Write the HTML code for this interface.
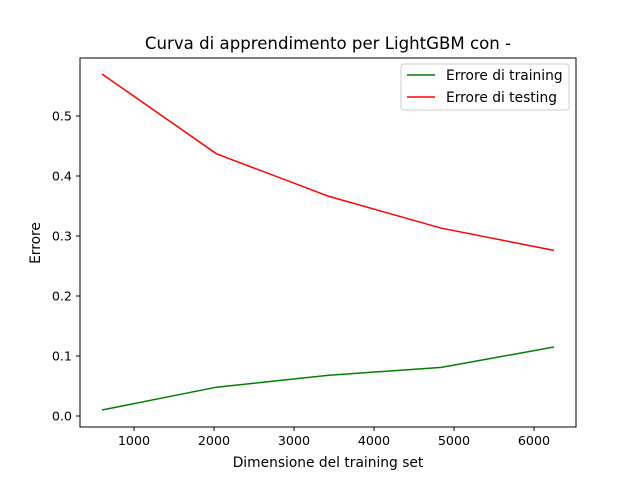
<!DOCTYPE html>
<html><head><meta charset="utf-8"><style>
body{margin:0;background:#fff}
svg text{font-family:"DejaVu Sans","Liberation Sans",sans-serif;fill:#000}
</style></head><body>
<svg width="640" height="480">
<rect x="0" y="0" width="640" height="480" fill="#fff"/>
<text x="328" y="49" font-size="16.6" text-anchor="middle">Curva di apprendimento per LightGBM con -</text>
<g id="ticks"></g>
<g id="lines"></g>
<rect x="80" y="58" width="496" height="369" fill="none" stroke="#000" stroke-width="1"/>
<text x="328" y="467" font-size="13.8" text-anchor="middle">Dimensione del training set</text>
<text x="40" y="243" font-size="13.8" text-anchor="middle" transform="rotate(-90 40 243)">Errore</text>
<g>
<rect x="401" y="64" width="168" height="46" rx="3" fill="#fff" stroke="#ccc"/>
<line x1="407" y1="75" x2="435" y2="75" stroke="green" stroke-width="1.5"/>
<text x="446" y="80" font-size="13.8">Errore di training</text>
<line x1="407" y1="97" x2="435" y2="97" stroke="red" stroke-width="1.5"/>
<text x="446" y="102" font-size="13.8">Errore di testing</text>
</g>
</svg>
<script>
const trainSizes=[600,2031,3437,4843,6250];
const trainErr=[0.01,0.048,0.068,0.081,0.115];
const testErr=[0.57,0.437,0.366,0.313,0.276];
const xTicks=[1000,2000,3000,4000,5000,6000];
const yTicks=[0.0,0.1,0.2,0.3,0.4,0.5];
const xs=v=>134+0.08*(v-1000);
const ys=v=>416-600*v;
const NS="http://www.w3.org/2000/svg";
const tg=document.getElementById('ticks');
xTicks.forEach(t=>{
 const l=document.createElementNS(NS,'line');
 l.setAttribute('x1',xs(t));l.setAttribute('x2',xs(t));l.setAttribute('y1',427);l.setAttribute('y2',431);l.setAttribute('stroke','#000');
 
 
 tg.appendChild(l);
 const tx=document.createElementNS(NS,'text');
 tx.setAttribute('x',xs(t));tx.setAttribute('y',445);tx.setAttribute('font-size','12.7');tx.setAttribute('text-anchor','middle');
 tx.textContent=t;
 
 
 tg.appendChild(tx);
});
yTicks.forEach(t=>{
 const l=document.createElementNS(NS,'line');
 l.setAttribute('x1',76);l.setAttribute('x2',80);l.setAttribute('y1',ys(t));l.setAttribute('y2',ys(t));l.setAttribute('stroke','#000');
 
 
 tg.appendChild(l);
 const tx=document.createElementNS(NS,'text');
 tx.setAttribute('x',72);tx.setAttribute('y',ys(t)+4.5);tx.setAttribute('font-size','12.7');tx.setAttribute('text-anchor','end');
 tx.textContent=t.toFixed(1);
 
 
 tg.appendChild(tx);
});
const lg=document.getElementById('lines');
function line(vals,color,name){
 const p=document.createElementNS(NS,'polyline');
 p.setAttribute('points',trainSizes.map((s,i)=>xs(s)+','+ys(vals[i])).join(' '));
 p.setAttribute('fill','none');p.setAttribute('stroke',color);p.setAttribute('stroke-width','1.5');
 
 
 lg.appendChild(p);
}
line(trainErr,'green','training-error-line');
line(testErr,'red','testing-error-line');
</script>
</body></html>
